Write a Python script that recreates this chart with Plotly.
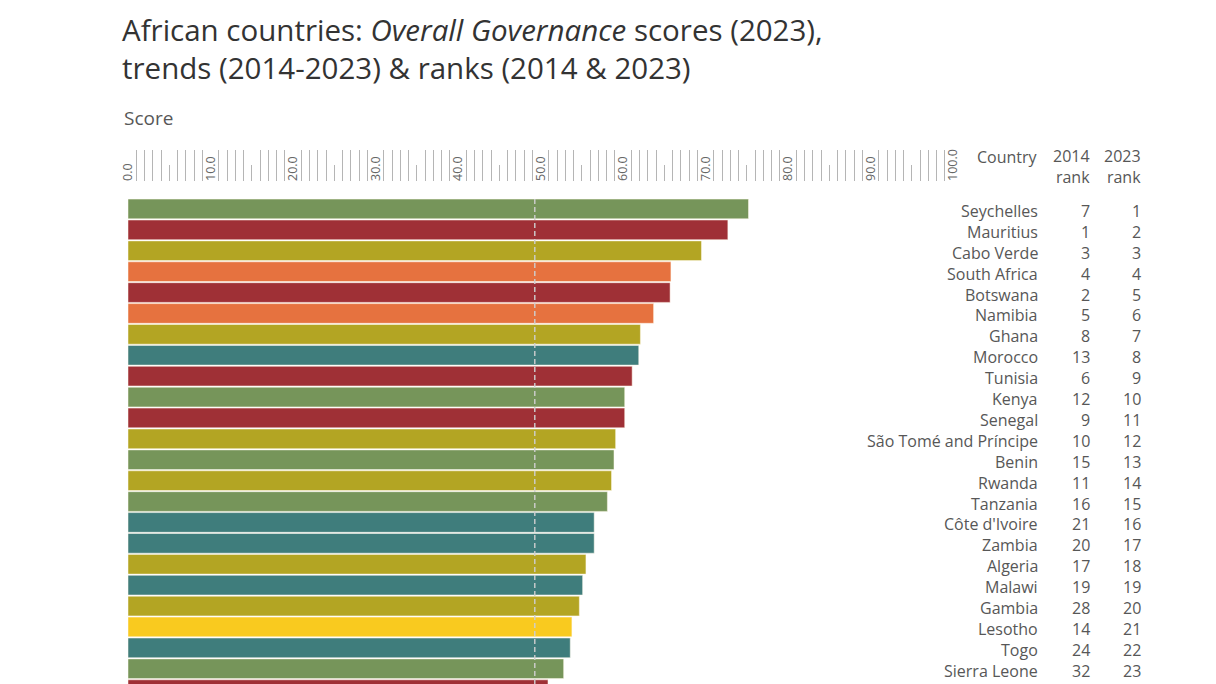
import plotly.graph_objects as go

# ---------------- data ----------------
countries = ["Seychelles", "Mauritius", "Cabo Verde", "South Africa", "Botswana",
             "Namibia", "Ghana", "Morocco", "Tunisia", "Kenya", "Senegal",
             "São Tomé and Príncipe", "Benin", "Rwanda", "Tanzania", "Côte d'Ivoire",
             "Zambia", "Algeria", "Malawi", "Gambia", "Lesotho", "Togo", "Sierra Leone",
             ""]
scores_2023 = [75.2, 72.7, 69.5, 65.8, 65.7, 63.7, 62.1, 61.9, 61.1, 60.2, 60.2,
               59.1, 58.9, 58.6, 58.1, 56.5, 56.5, 55.5, 55.1, 54.7, 53.8, 53.6, 52.8,
               50.9]
rank_2014 = [7, 1, 3, 4, 2, 5, 8, 13, 6, 12, 9, 10, 15, 11, 16, 21, 20, 17, 19, 28,
             14, 24, 32, None]
rank_2023 = [1, 2, 3, 4, 5, 6, 7, 8, 9, 10, 11, 12, 13, 14, 15, 16, 17, 18, 19, 20,
             21, 22, 23, 24]
trend = ["green", "red", "olive", "orange", "red", "orange", "olive", "teal", "red",
         "green", "red", "olive", "green", "olive", "green", "teal", "teal", "olive",
         "teal", "olive", "yellow", "teal", "green", "red"]
africa_average = 49.3
tick_labels = ["0.0", "10.0", "20.0", "30.0", "40.0", "50.0", "60.0", "70.0",
               "80.0", "90.0", "100.0"]
tick_values = [0, 10, 20, 30, 40, 50, 60, 70, 80, 90, 100]

# ---------------- styles ----------------
palette = {
    "green": "#76955A",
    "red": "#9F3036",
    "olive": "#B3A523",
    "orange": "#E6723F",
    "teal": "#3F7D7C",
    "yellow": "#F9CA1F",
}
FONT = "Open Sans"
TXT = "#575757"
OFF = 8  # page body margin
W, H = 1200, 684
L_PX, T_PX = 127.5 - OFF, 181 - OFF
PX_PER_UNIT = 8.255
ROW_PX = 20.9
PLOT_TOP_PX = 198.5 - OFF

plot_w = W - L_PX
paper_h = H - T_PX
dom_top = (H - PLOT_TOP_PX) / paper_h
n_rows_visible = (H - PLOT_TOP_PX) / ROW_PX

fig = go.Figure()
fig.add_trace(go.Bar(
    x=scores_2023, y=rank_2023, orientation="h",
    marker=dict(color=[palette[t] for t in trend],
                line=dict(color="rgba(255,250,235,0.85)", width=0.6)),
    hoverinfo="skip", showlegend=False,
))

minor_vals = [v for v in range(1, 100) if v % 5 != 0]
mid_vals = [v for v in range(5, 100, 10)]
xr = [0, plot_w / PX_PER_UNIT]

fig.update_layout(
    width=W, height=H,
    margin=dict(l=L_PX, r=0, t=T_PX, b=0),
    paper_bgcolor="white", plot_bgcolor="white",
    bargap=0.057,
    font=dict(family=FONT, color=TXT),
    xaxis=dict(range=xr, side="top", anchor="free", position=1,
               tickvals=tick_values, ticktext=tick_labels, tickangle=-90,
               ticks="", showgrid=False, zeroline=False, showline=False,
               tickfont=dict(family=FONT, size=12.5, color="#666666")),
    xaxis2=dict(range=xr, matches="x", overlaying="x", side="top", anchor="free", position=1,
                tickvals=minor_vals, ticks="outside", ticklen=31, tickwidth=1,
                tickcolor="#b5b5b5", showticklabels=False, showgrid=False,
                zeroline=False, showline=False),
    xaxis3=dict(range=xr, matches="x", overlaying="x", side="top", anchor="free", position=1,
                tickvals=mid_vals, ticks="outside", ticklen=16, tickwidth=1,
                tickcolor="#b5b5b5", showticklabels=False, showgrid=False,
                zeroline=False, showline=False),
    yaxis=dict(range=[0.5 + n_rows_visible, 0.5], domain=[0, dom_top],
               showticklabels=False, showgrid=False, zeroline=False, showline=False),
)

# invisible traces so the tick axes render
fig.add_trace(go.Scatter(x=[None], y=[None], xaxis="x2", showlegend=False, hoverinfo="skip"))
fig.add_trace(go.Scatter(x=[None], y=[None], xaxis="x3", showlegend=False, hoverinfo="skip"))

# African average dashed line
fig.add_shape(type="line", xref="x", yref="y domain", x0=africa_average, x1=africa_average,
              y0=0, y1=1, layer="above",
              line=dict(color="rgba(205,205,205,0.95)", width=1.5, dash="5px,3px"))

def px_x(px):
    return (px - OFF - L_PX) / plot_w

def px_y(px):
    return (H - (px - OFF)) / paper_h

name_x = px_x(1040)
r14_x = px_x(1092)
r23_x = px_x(1143)
LBL = 16
YS = -2

for c, r14, r23 in zip(countries, rank_2014, rank_2023):
    if not c:
        continue
    fig.add_annotation(x=name_x, y=r23, xref="paper", yref="y", text=c, showarrow=False,
                       xanchor="right", yanchor="middle", yshift=YS, font=dict(size=LBL, color=TXT))
    fig.add_annotation(x=r14_x, y=r23, xref="paper", yref="y", text=str(r14), showarrow=False,
                       xanchor="right", yanchor="middle", yshift=YS, font=dict(size=LBL, color=TXT))
    fig.add_annotation(x=r23_x, y=r23, xref="paper", yref="y", text=str(r23), showarrow=False,
                       xanchor="right", yanchor="middle", yshift=YS, font=dict(size=LBL, color=TXT))

# headers
fig.add_annotation(x=name_x, y=px_y(157), xref="paper", yref="paper", text="Country",
                   showarrow=False, xanchor="right", yanchor="middle", font=dict(size=LBL, color=TXT))
fig.add_annotation(x=r14_x, y=px_y(166.5), xref="paper", yref="paper", text="2014<br>rank",
                   showarrow=False, xanchor="right", yanchor="middle", align="right",
                   font=dict(size=LBL, color=TXT))
fig.add_annotation(x=r23_x, y=px_y(166.5), xref="paper", yref="paper", text="2023<br>rank",
                   showarrow=False, xanchor="right", yanchor="middle", align="right",
                   font=dict(size=LBL, color=TXT))

fig.add_annotation(x=px_x(121), y=px_y(118), xref="paper", yref="paper", text="Score",
                   showarrow=False, xanchor="left", yanchor="middle", font=dict(size=19, color=TXT))

# title (two lines)
fig.add_annotation(x=px_x(120), y=1 + T_PX / paper_h, xref="paper", yref="paper",
                   text="African countries: <i>Overall Governance</i> scores (2023),<br>"
                        "trends (2014-2023) & ranks (2014 & 2023)",
                   showarrow=False, xanchor="left", yanchor="top", align="left",
                   borderpad=0, font=dict(size=29.5, color="#333333"))

fig.write_html("out.html")
